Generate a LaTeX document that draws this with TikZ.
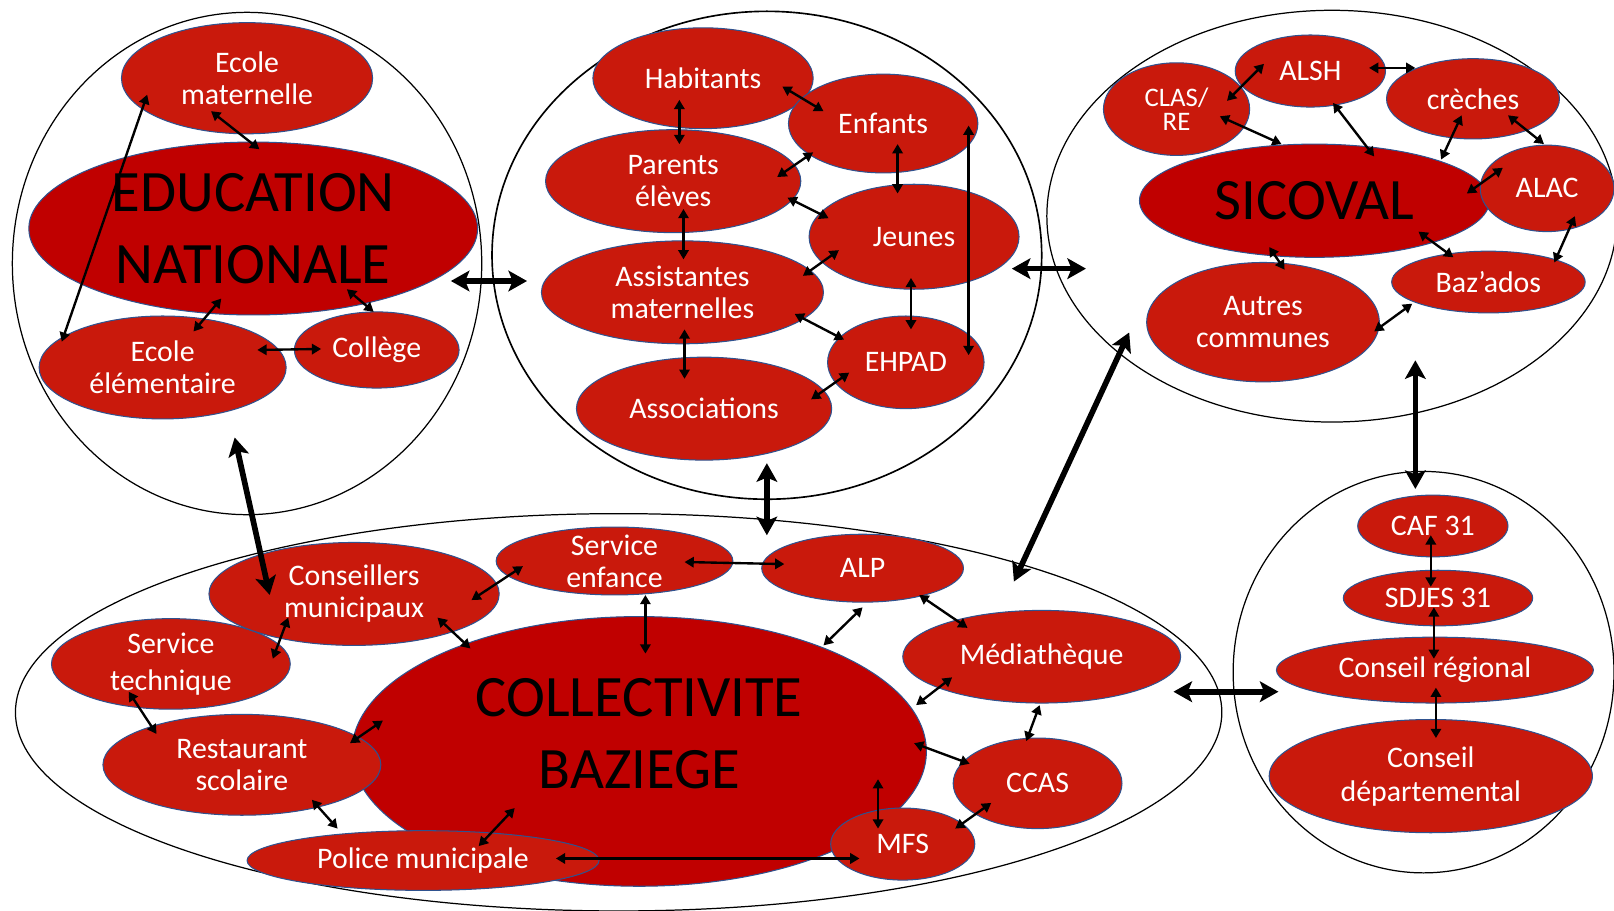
\documentclass[tikz,border=0pt]{standalone}
\usepackage{fontspec}
\setmainfont{Carlito}
\usetikzlibrary{shapes.geometric,arrows.meta}
\definecolor{lred}{RGB}{201,25,12}
\definecolor{dred}{RGB}{192,0,0}
\definecolor{bord}{RGB}{47,82,143}
\newcommand\cn[5]{\draw[#1] ([shift={#3}]#2.center) -- ([shift={#5}]#4.center);}
\begin{document}
\begin{tikzpicture}[x=1pt,y=-1pt,
  sz/.style 2 args={minimum width=#1pt, minimum height=#2pt},
  ring/.style={ellipse, draw=black, line width=1.2pt, inner sep=0pt},
  bub/.style={ellipse, draw=bord, line width=1pt, fill=lred, text=white, inner xsep=-4pt, inner ysep=-20pt, align=center, font=\fontsize{29}{31}\selectfont},
  bigbub/.style={bub, fill=dred, text=black, font=\fontsize{57}{70}\selectfont},
  bigtxt/.style={inner sep=0pt, align=center, text=black, font=\fontsize{57}{70}\selectfont},
  arr/.style={line width=2.3pt, {Triangle[length=9pt,width=10pt]}-{Triangle[length=9pt,width=10pt]}},
  tarr/.style={line width=5.5pt, {Stealth[length=18pt,width=20pt,inset=4pt]}-{Stealth[length=18pt,width=20pt,inset=4pt]}}]
\useasboundingbox[fill=white] (0,0) rectangle (1568,885);

% outer groups
\node[ring, sz={456}{488}] (c1) at (240,256) {};
\node[ring, sz={534}{474}, line width=1.6pt] (c2) at (745,248) {};
\node[ring, sz={554}{400}] (c3) at (1294,210) {};
\node[ring, sz={370}{390}] (c4) at (1383,653) {};
\node[ring, sz={1172}{386}] (c5) at (601,692) {};

% Education nationale
\node[bub, sz={244}{108}] (emat) at (240,76) {Ecole\\maternelle};
\node[bigbub, sz={436}{168}] (edu) at (246,222) {EDUCATION\\NATIONALE};
\node[bub, sz={240}{100}] (eele) at (158,357) {Ecole\\élémentaire};
\node[bub, sz={160}{74}] (coll) at (366,340) {Collège};

% habitants
\node[bub, sz={214}{98}] (hab) at (683,76) {Habitants};
\node[bub, sz={184}{96}] (enf) at (858,120) {Enfants};
\node[bub, sz={248}{100}] (par) at (654,176) {Parents\\élèves};
\node[bub, sz={204}{102}] (jeu) at (888,230) {Jeunes};
\node[bub, sz={274}{100}] (ass) at (663,284) {Assistantes\\maternelles};
\node[bub, sz={152}{90}] (ehp) at (880,352) {EHPAD};
\node[bub, sz={248}{100}] (asso) at (684,397) {Associations};

% Sicoval
\node[bigbub, sz={340}{110}] (sic) at (1277,195) {SICOVAL};
\node[bub, sz={142}{90}, font=\fontsize{26}{24}\selectfont] (clas) at (1143,106) {CLAS/\\RE};
\node[bub, sz={146}{70}] (alsh) at (1273,69) {ALSH};
\node[bub, sz={168}{78}] (cre) at (1431,96) {crèches};
\node[bub, sz={130}{84}] (alac) at (1503,183) {ALAC};
\node[bub, sz={188}{60}] (baz) at (1446,274) {Baz’ados};
\node[bub, sz={226}{116}] (aut) at (1227,313) {Autres\\communes};

% Collectivite
\node[bigbub, sz={558}{262}] (colb) at (621,730) {};
\node[bigtxt] (colbt) at (621,713) {COLLECTIVITE\\BAZIEGE};
\node[bub, sz={230}{66}] (senf) at (597,545) {Service\\enfance};
\node[bub, sz={196}{66}] (alp) at (838,552) {ALP};
\node[bub, sz={232}{88}, font=\fontsize{29}{36}\selectfont] (stech) at (166,645) {Service\\technique};
\node[bub, sz={282}{100}] (cons) at (344,577) {Conseillers\\municipaux};
\node[bub, sz={270}{90}] (med) at (1012,638) {Médiathèque};
\node[bub, sz={270}{98}] (rest) at (235,743) {Restaurant\\scolaire};
\node[bub, sz={164}{88}] (ccas) at (1008,761) {CCAS};
\node[bub, sz={140}{70}] (mfs) at (877,820) {MFS};
\node[bub, sz={342}{58}] (pol) at (411,836) {Police municipale};

% partenaires
\node[bub, sz={146}{60}] (caf) at (1392,511) {CAF 31};
\node[bub, sz={184}{54}] (sdj) at (1397,581) {SDJES 31};
\node[bub, sz={308}{64}] (creg) at (1394,651) {Conseil régional};
\node[bub, sz={314}{110}, font=\fontsize{29}{33}\selectfont] (cdep) at (1390,754) {Conseil\\départemental};

% arrows: education
\cn{arr}{emat}{(-35,32)}{edu}{(6,-77)}
\cn{arr}{eele}{(30,-35)}{edu}{(-31,68)}
\cn{arr}{edu}{(91,59)}{coll}{(-3,-37)}
\cn{arr}{eele}{(92,-17)}{coll}{(-54,-1)}
\cn{arr}{eele}{(-98,-25)}{emat}{(-97,16)}

% arrows: habitants
\cn{arr}{hab}{(-23,21)}{par}{(6,-36)}
\cn{arr}{hab}{(77,8)}{enf}{(-58,-12)}
\cn{arr}{enf}{(-68,28)}{par}{(101,-4)}
\cn{arr}{enf}{(14,20)}{jeu}{(-16,-42)}
\cn{arr}{par}{(111,16)}{jeu}{(-83,-18)}
\cn{arr}{par}{(10,27)}{ass}{(1,-32)}
\cn{arr}{jeu}{(-73,13)}{ass}{(117,-16)}
\cn{arr}{ass}{(109,21)}{ehp}{(-60,-22)}
\cn{arr}{jeu}{(-3,40)}{ehp}{(5,-32)}
\cn{arr}{ass}{(2,36)}{asso}{(-19,-29)}
\cn{arr}{ehp}{(-55,10)}{asso}{(104,-9)}
\cn{arr}{enf}{(83,2)}{ehp}{(61,-7)}

% arrows: sicoval
\cn{arr}{clas}{(49,-8)}{alsh}{(-45,-7)}
\cn{arr}{alsh}{(57,-3)}{cre}{(-56,-30)}
\cn{arr}{clas}{(42,7)}{sic}{(-32,-55)}
\cn{arr}{alsh}{(22,31)}{sic}{(58,-43)}
\cn{arr}{cre}{(-11,16)}{sic}{(123,-40)}
\cn{arr}{cre}{(34,16)}{alac}{(-3,-43)}
\cn{arr}{sic}{(148,-7)}{alac}{(-43,-20)}
\cn{arr}{sic}{(101,30)}{baz}{(-34,-24)}
\cn{arr}{alac}{(27,27)}{baz}{(64,-19)}
\cn{arr}{sic}{(-44,45)}{aut}{(21,-51)}
\cn{arr}{aut}{(108,9)}{baz}{(-74,21)}

% arrows: collectivite
\cn{arr}{cons}{(114,6)}{senf}{(-89,5)}
\cn{arr}{senf}{(68,1)}{alp}{(-76,-4)}
\cn{arr}{senf}{(30,33)}{colb}{(6,-95)}
\cn{arr}{cons}{(-64,23)}{stech}{(99,-5)}
\cn{arr}{cons}{(81,23)}{colb}{(-164,-100)}
\cn{arr}{alp}{(0,38)}{colb}{(179,-103)}
\cn{arr}{alp}{(55,26)}{med}{(-72,-28)}
\cn{arr}{med}{(-87,20)}{colb}{(269,-45)}
\cn{arr}{med}{(-2,47)}{ccas}{(-11,-41)}
\cn{arr}{colb}{(267,-8)}{ccas}{(-66,-19)}
\cn{arr}{colb}{(232,27)}{mfs}{(-24,-15)}
\cn{arr}{ccas}{(-45,19)}{mfs}{(51,-15)}
\cn{arr}{stech}{(-41,27)}{rest}{(-83,-30)}
\cn{arr}{rest}{(105,-21)}{colb}{(-249,-30)}
\cn{arr}{rest}{(68,34)}{pol}{(-83,-31)}
\cn{arr}{pol}{(54,-14)}{colb}{(-121,55)}
\cn{arr}{pol}{(129,-2)}{mfs}{(-42,14)}

% arrows: partenaires
\cn{arr}{caf}{(-2,9)}{sdj}{(-7,-11)}
\cn{arr}{sdj}{(-4,9)}{creg}{(-1,-11)}
\cn{arr}{creg}{(1,17)}{cdep}{(5,-37)}

% thick arrows between groups
\cn{tarr}{c1}{(198,17)}{c2}{(-233,25)}
\cn{tarr}{c2}{(238,13)}{c3}{(-239,51)}
\cn{tarr}{c1}{(-12,169)}{c5}{(-339,-114)}
\cn{tarr}{c2}{(0,202)}{c5}{(144,-172)}
\cn{tarr}{c3}{(-197,113)}{c5}{(384,-127)}
\cn{tarr}{c3}{(81,140)}{c4}{(-8,-178)}
\cn{tarr}{c5}{(539,-20)}{c4}{(-141,19)}
\end{tikzpicture}
\end{document}
